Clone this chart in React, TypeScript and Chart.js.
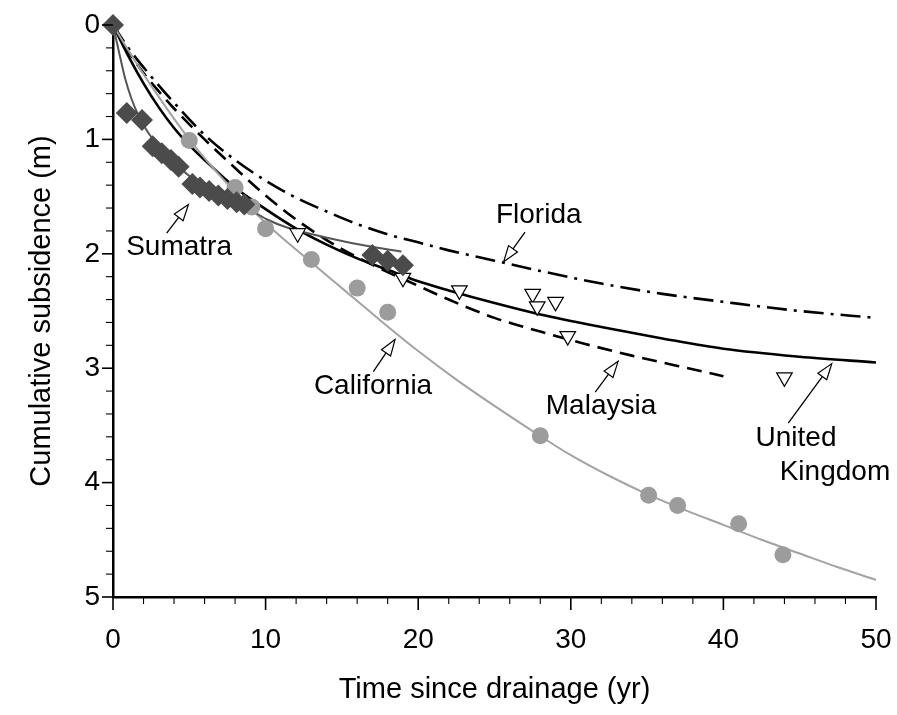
import React, { useEffect, useRef } from "react";
import { Chart, registerables } from "chart.js";

Chart.register(...registerables);

const FONT = "'Liberation Sans', Arial, Helvetica, sans-serif";

// Axis ticks
const xTickLabels = [0, 10, 20, 30, 40, 50];
const yTickLabels = [0, 1, 2, 3, 4, 5];

// Sumatra observations (diamonds)
const sumatraX = [0, 0.9, 1.9, 2.6, 3.2, 3.8, 4.3, 5.2, 5.7, 6.3, 6.9, 7.5, 8.1, 8.6, 17.0, 18.0, 19.0];
const sumatraY = [0, 0.77, 0.83, 1.06, 1.12, 1.18, 1.24, 1.39, 1.42, 1.45, 1.49, 1.52, 1.55, 1.57, 2.01, 2.06, 2.1];

// California observations (circles)
const califX = [5.0, 8.0, 9.1, 10.0, 13.0, 16.0, 18.0, 28.0, 35.1, 37.0, 41.0, 43.9];
const califY = [1.01, 1.42, 1.59, 1.78, 2.05, 2.3, 2.51, 3.59, 4.11, 4.2, 4.36, 4.63];

// United Kingdom observations (open triangles)
const ukObsX = [12.1, 19.0, 22.7, 27.5, 27.8, 29.0, 29.8, 44.0];
const ukObsY = [1.82, 2.21, 2.32, 2.35, 2.46, 2.42, 2.72, 3.08];

// Fitted curves
const sumatraCurveX = [0, 0.25, 0.5, 0.8, 1.2, 1.7, 2.3, 3, 4, 5, 6, 7, 8, 8.8, 10.1, 11.4, 14.4, 16.6, 18.9];
const sumatraCurveY = [0, 0.15, 0.3, 0.47, 0.64, 0.8, 0.94, 1.06, 1.2, 1.32, 1.41, 1.48, 1.54, 1.6, 1.7, 1.77, 1.87, 1.93, 1.98];

const califCurveX = [0, 1, 2.5, 5, 7.5, 10, 12.5, 15, 17.5, 20, 22.5, 25, 27.5, 30, 32.5, 35, 37.5, 40, 42.5, 45, 47.5, 50];
const califCurveY = [0, 0.22, 0.53, 1.0, 1.39, 1.73, 2.02, 2.3, 2.58, 2.85, 3.1, 3.33, 3.55, 3.76, 3.94, 4.1, 4.24, 4.37, 4.5, 4.62, 4.74, 4.85];

const ukCurveX = [0, 1, 2, 3, 4, 5, 6, 8, 10, 12, 14, 16, 18, 20, 22, 25, 28, 32, 36, 40, 45, 50];
const ukCurveY = [0, 0.27, 0.51, 0.72, 0.9, 1.05, 1.18, 1.42, 1.61, 1.78, 1.92, 2.04, 2.14, 2.24, 2.32, 2.43, 2.53, 2.64, 2.74, 2.83, 2.9, 2.95];

const malayCurveX = [0, 1, 2, 3, 4, 6, 8, 10, 12, 14, 16, 18, 20, 22, 25, 28, 31, 34, 37, 40];
const malayCurveY = [0, 0.23, 0.42, 0.58, 0.73, 1.0, 1.25, 1.49, 1.7, 1.88, 2.03, 2.16, 2.28, 2.4, 2.56, 2.68, 2.79, 2.89, 2.98, 3.07];

const floridaCurveX = [0, 1, 2.5, 4, 6, 8, 10, 12, 14, 16, 18, 20, 22, 25, 28, 32, 36, 40, 45, 50];
const floridaCurveY = [0, 0.2, 0.45, 0.68, 0.96, 1.18, 1.36, 1.51, 1.63, 1.74, 1.83, 1.9, 1.97, 2.06, 2.15, 2.26, 2.35, 2.42, 2.5, 2.56];

// Annotation labels
const labelTexts = ["Florida", "Sumatra", "California", "Malaysia", "United", "Kingdom"];
const labelX = [27.9, 4.33, 17.04, 31.98, 44.76, 47.31];
const labelY = [1.66, 1.94, 3.16, 3.33, 3.61, 3.91];

// Annotation arrows (tail -> tip)
const arrowTailX = [27.0, 3.52, 17.06, 31.6, 44.25];
const arrowTailY = [1.81, 1.82, 3.03, 3.21, 3.48];
const arrowTipX = [25.6, 4.94, 18.48, 33.1, 47.1];
const arrowTipY = [2.07, 1.57, 2.75, 2.94, 2.96];

const toPts = (xs: number[], ys: number[]) => xs.map((x, i) => ({ x, y: ys[i] }));
const isInt = (v: number) => Math.abs(v - Math.round(v)) < 1e-6;

const decorPlugin = {
  id: "decor",
  afterDraw(chart: any) {
    const ctx = chart.ctx as CanvasRenderingContext2D;
    const xs = chart.scales.x;
    const ys = chart.scales.y;
    const { left, bottom } = chart.chartArea;
    ctx.save();
    ctx.strokeStyle = "#000";
    // tick marks
    xs.ticks.forEach((t: any) => {
      const px = xs.getPixelForValue(t.value);
      const major = xTickLabels.some((v) => Math.abs(v - t.value) < 1e-6);
      ctx.lineWidth = major ? 1.6 : 1.1;
      ctx.beginPath();
      ctx.moveTo(px, bottom);
      ctx.lineTo(px, bottom + (major ? 13 : 7));
      ctx.stroke();
    });
    ys.ticks.forEach((t: any) => {
      const py = ys.getPixelForValue(t.value);
      const major = yTickLabels.some((v) => Math.abs(v - t.value) < 1e-6);
      ctx.lineWidth = major ? 1.6 : 1.1;
      ctx.beginPath();
      ctx.moveTo(left, py);
      ctx.lineTo(left - (major ? 11 : 7), py);
      ctx.stroke();
    });
    // arrows
    arrowTailX.forEach((tx, i) => {
      const x0 = xs.getPixelForValue(tx);
      const y0 = ys.getPixelForValue(arrowTailY[i]);
      const x1 = xs.getPixelForValue(arrowTipX[i]);
      const y1 = ys.getPixelForValue(arrowTipY[i]);
      const ang = Math.atan2(y1 - y0, x1 - x0);
      const len = 16;
      const hw = 5.5;
      const bx = x1 - Math.cos(ang) * len;
      const by = y1 - Math.sin(ang) * len;
      ctx.lineWidth = 1.3;
      ctx.beginPath();
      ctx.moveTo(x0, y0);
      ctx.lineTo(bx, by);
      ctx.stroke();
      ctx.beginPath();
      ctx.moveTo(x1, y1);
      ctx.lineTo(bx + Math.sin(ang) * hw, by - Math.cos(ang) * hw);
      ctx.lineTo(bx - Math.sin(ang) * hw, by + Math.cos(ang) * hw);
      ctx.closePath();
      ctx.fillStyle = "#fff";
      ctx.fill();
      ctx.lineWidth = 1.2;
      ctx.stroke();
    });
    // labels
    ctx.fillStyle = "#000";
    ctx.font = `28px ${FONT}`;
    ctx.textAlign = "center";
    ctx.textBaseline = "middle";
    labelTexts.forEach((t, i) => {
      ctx.fillText(t, xs.getPixelForValue(labelX[i]), ys.getPixelForValue(labelY[i]));
    });
    ctx.restore();
  },
};

export default function App() {
  const ref = useRef<HTMLCanvasElement | null>(null);
  useEffect(() => {
    if (!ref.current) return;
    const curve = (xs: number[], ys: number[], color: string, width: number, dash: number[] = []) => ({
      data: toPts(xs, ys),
      showLine: true,
      borderColor: color,
      borderWidth: width,
      borderDash: dash,
      pointRadius: 0,
      fill: false,
      cubicInterpolationMode: "monotone" as const,
    });
    const chart = new Chart(ref.current, {
      type: "scatter",
      data: {
        datasets: [
          {
            data: toPts(sumatraX, sumatraY),
            pointStyle: "rectRot",
            pointRadius: 11,
            backgroundColor: "#4b4b4b",
            borderColor: "#4b4b4b",
            borderWidth: 0,
            clip: false,
          } as any,
          {
            data: toPts(ukObsX, ukObsY),
            pointStyle: "triangle",
            rotation: 180,
            pointRadius: 9,
            backgroundColor: "#fff",
            borderColor: "#000",
            borderWidth: 1.2,
          } as any,
          {
            data: toPts(califX, califY),
            pointStyle: "circle",
            pointRadius: 8.5,
            backgroundColor: "#9c9c9c",
            borderColor: "#9c9c9c",
            borderWidth: 0,
          } as any,
          curve(sumatraCurveX, sumatraCurveY, "#555555", 2),
          curve(califCurveX, califCurveY, "#a3a3a3", 2),
          curve(ukCurveX, ukCurveY, "#000", 2.6),
          curve(malayCurveX, malayCurveY, "#000", 2.6, [15, 8]),
          curve(floridaCurveX, floridaCurveY, "#000", 2.6, [20, 7, 3, 7]),
        ] as any,
      },
      options: {
        responsive: false,
        animation: false,
        events: [],
        layout: { padding: { left: 0, right: 21, top: 25, bottom: 0 } },
        plugins: { legend: { display: false }, tooltip: { enabled: false } },
        scales: {
          x: {
            type: "linear",
            min: 0,
            max: 50,
            ticks: {
              stepSize: 2,
              autoSkip: false,
              maxRotation: 0,
              padding: 26,
              color: "#000",
              font: { family: FONT, size: 28 },
              callback: (v: any) => (xTickLabels.some((t) => Math.abs(t - v) < 1e-6) ? String(Math.round(v)) : ""),
            },
            grid: { display: false, drawTicks: false },
            border: { display: true, color: "#000", width: 2.5 },
            title: {
              display: true,
              text: "Time since drainage (yr)",
              color: "#000",
              font: { family: FONT, size: 29 },
              padding: { top: 0, bottom: 8 },
            },
            afterFit: (s: any) => {
              s.height = 118;
              s.paddingLeft = 0;
              s.paddingRight = 0;
            },
          },
          y: {
            type: "linear",
            min: 0,
            max: 5,
            reverse: true,
            ticks: {
              stepSize: 0.2,
              autoSkip: false,
              padding: 13,
              color: "#000",
              font: { family: FONT, size: 28 },
              callback: (v: any) => (yTickLabels.some((t) => Math.abs(t - v) < 1e-6) && isInt(v) ? String(Math.round(v)) : ""),
            },
            grid: { display: false, drawTicks: false },
            border: { display: true, color: "#000", width: 2.5 },
            title: {
              display: true,
              text: "Cumulative subsidence (m)",
              color: "#000",
              font: { family: FONT, size: 29 },
              padding: { top: 25, bottom: 0 },
            },
            afterFit: (s: any) => {
              s.width = 113;
              s.paddingTop = 0;
              s.paddingBottom = 0;
            },
          },
        },
      },
      plugins: [decorPlugin],
    });
    return () => chart.destroy();
  }, []);
  return (
    <div style={{ position: "absolute", left: 0, top: 0 }}>
      <canvas ref={ref} width={897} height={715} style={{ display: "block", width: 897, height: 715 }} />
    </div>
  );
}
